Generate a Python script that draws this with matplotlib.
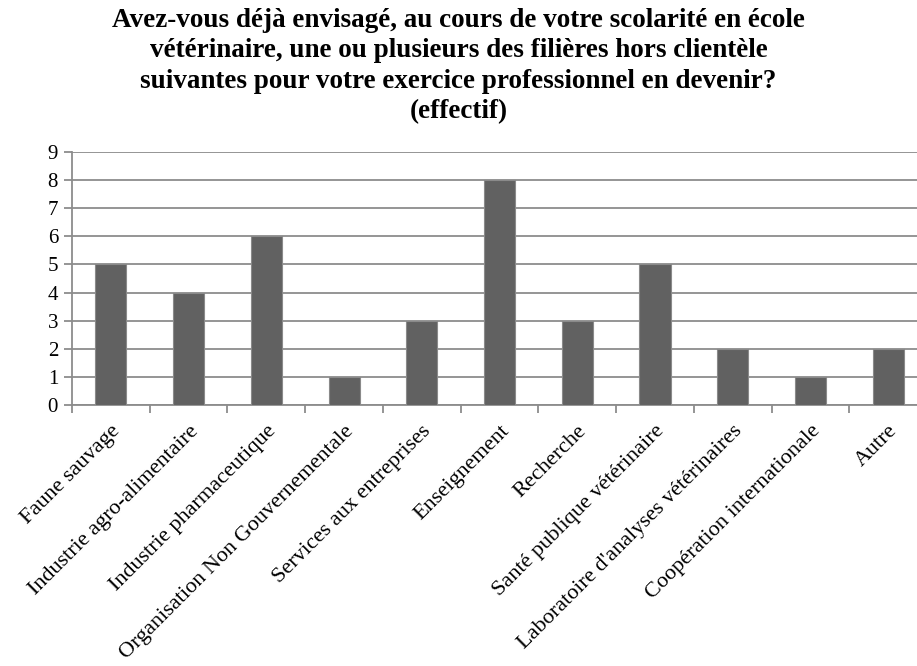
import matplotlib
matplotlib.use("Agg")
import matplotlib.pyplot as plt

categories = ["Faune sauvage", "Industrie agro-alimentaire", "Industrie pharmaceutique",
              "Organisation Non Gouvernementale", "Services aux entreprises", "Enseignement",
              "Recherche", "Santé publique vétérinaire", "Laboratoire d'analyses vétérinaires",
              "Coopération internationale", "Autre"]
values = [5, 4, 6, 1, 3, 8, 3, 5, 2, 1, 2]
yticks = list(range(0, 10))
title = ("Avez-vous déjà envisagé, au cours de votre scolarité en école\n"
         "vétérinaire, une ou plusieurs des filières hors clientèle\n"
         "suivantes pour votre exercice professionnel en devenir?\n(effectif)")

plt.rcParams['font.family'] = ['Liberation Serif', 'DejaVu Serif']

fig = plt.figure(figsize=(9.17, 6.66), dpi=100)
ax = fig.add_axes([72/917, 1-405/666, 855/917, 253/666])
x = list(range(len(categories)))
ax.bar(x, values, width=0.4, color="#616161", edgecolor="#8a8a8a", linewidth=0.8, zorder=3)
ax.set_xlim(-0.5, len(categories)-0.5)
ax.set_ylim(0, 9)
ax.set_yticks(yticks)
ax.set_yticklabels([str(t) for t in yticks], fontsize=15)
ax.yaxis.grid(True, color="#8c8c8c", linewidth=1.3, zorder=0)
ax.set_axisbelow(True)
for s in ["top", "right"]:
    ax.spines[s].set_visible(False)
for s in ["left", "bottom"]:
    ax.spines[s].set_color("#8c8c8c")
    ax.spines[s].set_linewidth(1.3)
ax.tick_params(axis='y', length=6, color="#8c8c8c", width=1.3, pad=4)
ax.set_xticks([i - 0.5 for i in range(len(categories))], minor=False)
ax.set_xticklabels([])
ax.tick_params(axis='x', which='major', length=6, color="#8c8c8c", width=1.3)
ax.set_xticks(x, minor=True)
ax.set_xticklabels(categories, minor=True, rotation=45, ha='right', rotation_mode='anchor', fontsize=16)
ax.tick_params(axis='x', which='minor', length=0, pad=12)
fig.text(0.5, 0.988, title, ha='center', va='top', fontsize=19.5, fontweight='bold', linespacing=1.28)
fig.savefig("out.png", dpi=100)
